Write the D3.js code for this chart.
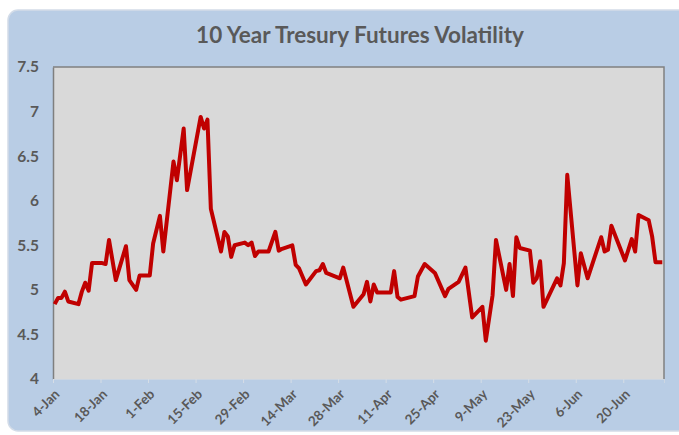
<!DOCTYPE html>
<meta charset="utf-8">
<style>
  body { margin: 0; background: #fff; }
  text { font-family: Lato, "Open Sans", sans-serif; font-weight: bold; fill: #595959; }
</style>
<body>
<script src="https://d3js.org/d3.v7.min.js"></script>
<script>

    var width = 679,
        height = 435;

    // chart data
    var dates = [
        "2016-01-04","2016-01-05","2016-01-06","2016-01-07","2016-01-08",
        "2016-01-11","2016-01-12","2016-01-13","2016-01-14","2016-01-15",
        "2016-01-18","2016-01-19","2016-01-20","2016-01-22","2016-01-25",
        "2016-01-26","2016-01-28","2016-01-29","2016-02-01","2016-02-02",
        "2016-02-04","2016-02-05","2016-02-08","2016-02-09","2016-02-11",
        "2016-02-12","2016-02-16","2016-02-17","2016-02-18","2016-02-19",
        "2016-02-22","2016-02-23","2016-02-24","2016-02-25","2016-02-26",
        "2016-02-29","2016-03-01","2016-03-02","2016-03-03","2016-03-04",
        "2016-03-07","2016-03-09","2016-03-10","2016-03-11","2016-03-14",
        "2016-03-15","2016-03-16","2016-03-18","2016-03-21","2016-03-22",
        "2016-03-23","2016-03-24","2016-03-28","2016-03-29","2016-04-01",
        "2016-04-04","2016-04-05","2016-04-06","2016-04-07","2016-04-08",
        "2016-04-12","2016-04-13","2016-04-14","2016-04-15","2016-04-19",
        "2016-04-20","2016-04-22","2016-04-25","2016-04-28","2016-04-29",
        "2016-05-02","2016-05-04","2016-05-06","2016-05-09","2016-05-10",
        "2016-05-12","2016-05-13","2016-05-16","2016-05-17","2016-05-18",
        "2016-05-19","2016-05-20","2016-05-23","2016-05-24","2016-05-25",
        "2016-05-26","2016-05-27","2016-05-31","2016-06-01","2016-06-02",
        "2016-06-03","2016-06-06","2016-06-07","2016-06-09","2016-06-13",
        "2016-06-14","2016-06-15","2016-06-16","2016-06-20","2016-06-22",
        "2016-06-23","2016-06-24","2016-06-27","2016-06-28","2016-06-29",
        "2016-06-30","2016-07-01"
    ];

    var volatility = [
        4.84, 4.91, 4.91, 4.98, 4.87,
        4.84, 4.98, 5.08, 4.99, 5.30,
        5.30, 5.29, 5.56, 5.11, 5.49,
        5.11, 5.00, 5.16, 5.16, 5.52,
        5.83, 5.43, 6.44, 6.23, 6.81,
        6.12, 6.94, 6.81, 6.91, 5.91,
        5.43, 5.65, 5.60, 5.37, 5.50,
        5.53, 5.50, 5.53, 5.38, 5.43,
        5.43, 5.65, 5.44, 5.46, 5.50,
        5.28, 5.24, 5.06, 5.21, 5.22,
        5.29, 5.19, 5.13, 5.25, 4.81,
        4.95, 5.09, 4.87, 5.06, 4.97,
        4.97, 5.21, 4.92, 4.89, 4.93,
        5.15, 5.29, 5.19, 4.93, 5.01,
        5.09, 5.25, 4.69, 4.81, 4.43,
        4.94, 5.56, 5.00, 5.29, 4.93,
        5.59, 5.47, 5.44, 5.08, 5.13,
        5.32, 4.81, 5.13, 5.05, 5.30,
        6.29, 5.05, 5.41, 5.13, 5.59,
        5.43, 5.45, 5.72, 5.33, 5.57,
        5.43, 5.84, 5.78, 5.60, 5.31,
        5.31, 5.31
    ];

    var xTickDates = ["2016-01-04","2016-01-18","2016-02-01","2016-02-15","2016-02-29",
        "2016-03-14","2016-03-28","2016-04-11","2016-04-25","2016-05-09",
        "2016-05-23","2016-06-06","2016-06-20"];

    var yTicks = [4, 4.5, 5, 5.5, 6, 6.5, 7, 7.5];

    var title = "10 Year Tresury Futures Volatility";

    var parseDate = d3.timeParse("%Y-%m-%d");
    var fmt = d3.timeFormat("%-d-%b");

    var data = dates.map(function(d, i) {
        return { date: parseDate(d), value: volatility[i] };
    });

    var plot = { left: 53, top: 67, right: 664, bottom: 379 };

    var svg = d3.select("body").append("svg")
            .attr("width", width)
            .attr("height", height);

    // chart area background
    svg.append("rect")
        .attr("x", 8).attr("y", 10)
        .attr("width", 700).attr("height", 421)
        .attr("rx", 10)
        .attr("fill", "#b9cde5")
        .attr("stroke", "#d3dce8")
        .attr("stroke-width", 1.5);

    svg.append("text")
        .attr("x", 360).attr("y", 43)
        .attr("text-anchor", "middle")
        .style("font-size", "22.5px")
        .text(title);

    // date axis, points sit in the middle of their day
    var x = d3.scaleTime()
            .domain([parseDate("2016-01-04"), parseDate("2016-07-02")])
            .range([plot.left, plot.right]);

    var y = d3.scaleLinear()
            .domain([4, 7.5])
            .range([plot.bottom, plot.top]);

    // plot area
    svg.append("rect")
        .attr("x", plot.left).attr("y", plot.top)
        .attr("width", plot.right - plot.left)
        .attr("height", plot.bottom - plot.top)
        .attr("fill", "#d9d9d9");

    svg.append("path")
        .attr("d", "M" + plot.left + "," + plot.top + "H" + plot.right + "V" + plot.bottom)
        .attr("fill", "none")
        .attr("stroke", "#808080")
        .attr("stroke-width", 1.5);

    // y axis
    var yAxis = svg.append("g")
            .attr("transform", "translate(" + plot.left + ",0)")
            .call(d3.axisLeft(y).tickValues(yTicks).tickSize(0).tickPadding(14)
                .tickFormat(d3.format("")));
    yAxis.select(".domain").attr("stroke", "#7f7f7f").attr("stroke-width", 1.5);
    yAxis.selectAll("text")
        .style("font-size", "15.5px")
        .attr("fill", "#595959");

    // x axis
    var xAxis = svg.append("g")
            .attr("transform", "translate(0," + plot.bottom + ")")
            .call(d3.axisBottom(x).tickValues(xTickDates.map(parseDate))
                .tickSize(4).tickFormat(fmt));
    xAxis.select(".domain").attr("stroke", "#ccd6e2");
    xAxis.selectAll(".tick line").attr("stroke", "#d6dde6");
    xAxis.selectAll("text")
        .style("font-size", "13.5px")
        .attr("fill", "#595959")
        .attr("text-anchor", "end")
        .attr("dy", null)
        .attr("y", 0)
        .attr("transform", "translate(7,16) rotate(-45)");

    var line = d3.line()
            .x(function(d) { return x(d3.timeHour.offset(d.date, 12)); })
            .y(function(d) { return y(d.value); });

    svg.append("path")
        .datum(data)
        .attr("d", line)
        .attr("fill", "none")
        .attr("stroke", "#c00000")
        .attr("stroke-width", 4)
        .attr("stroke-linejoin", "round");

</script>
